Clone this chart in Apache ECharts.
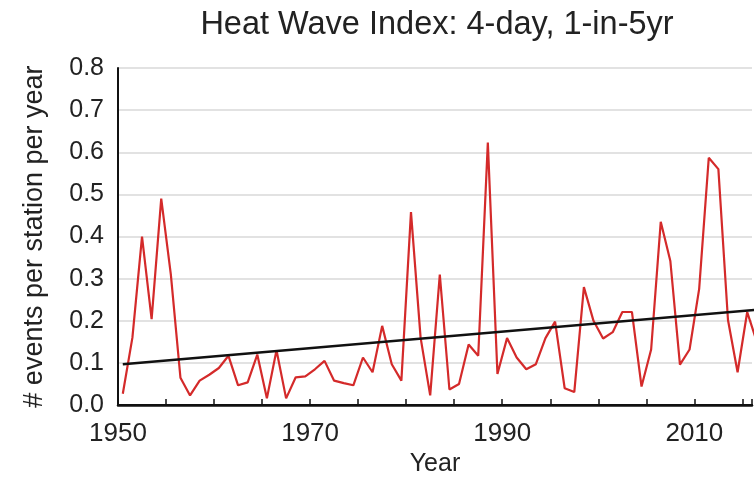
<!DOCTYPE html>
<html>
<head>
<meta charset="utf-8">
<script src="https://cdn.jsdelivr.net/npm/echarts@6/dist/echarts.min.js"></script>
<style>
html,body{margin:0;padding:0;background:#fff;}
#chart{width:755px;height:482px;}
</style>
</head>
<body>
<div id="chart"></div>
<script>
// Years (annual values, plotted at mid-year)
var years = [1950,1951,1952,1953,1954,1955,1956,1957,1958,1959,
             1960,1961,1962,1963,1964,1965,1966,1967,1968,1969,
             1970,1971,1972,1973,1974,1975,1976,1977,1978,1979,
             1980,1981,1982,1983,1984,1985,1986,1987,1988,1989,
             1990,1991,1992,1993,1994,1995,1996,1997,1998,1999,
             2000,2001,2002,2003,2004,2005,2006,2007,2008,2009,
             2010,2011,2012,2013,2014,2015,2016];
var events = [0.027,0.16,0.40,0.204,0.49,0.31,0.065,0.023,0.058,0.072,
              0.088,0.117,0.047,0.054,0.12,0.016,0.13,0.016,0.066,0.068,
              0.085,0.105,0.058,0.052,0.047,0.113,0.078,0.188,0.097,0.058,
              0.458,0.16,0.023,0.31,0.037,0.05,0.144,0.117,0.623,0.074,
              0.159,0.113,0.085,0.097,0.159,0.198,0.04,0.031,0.28,0.20,
              0.158,0.173,0.221,0.221,0.044,0.132,0.435,0.342,0.096,0.132,
              0.276,0.587,0.56,0.202,0.078,0.221,0.15];
// Linear trend end points
var trendYears = [1950, 2016];
var trendValues = [0.097, 0.226];
var yTicks = [0.0,0.1,0.2,0.3,0.4,0.5,0.6,0.7,0.8];
var xLabelYears = [1950, 1970, 1990, 2010];

var chart = echarts.init(document.getElementById('chart'));
var font = 'Liberation Sans, Arial, sans-serif';
chart.setOption({
  animation: false,
  backgroundColor: '#fff',
  title: {
    text: 'Heat Wave Index: 4-day, 1-in-5yr',
    left: 432, textAlign: 'center', top: 4,
    textStyle: {fontFamily: font, fontSize: 32.5, fontWeight: 'normal', color: '#222'}
  },
  grid: {left: 118, right: 0, top: 68, bottom: 70},
  xAxis: [{
    type: 'value', min: 1950, max: 2016, interval: 5,
    name: 'Year', nameLocation: 'middle', nameGap: 34,
    nameTextStyle: {fontFamily: font, fontSize: 25, color: '#222'},
    axisLine: {show: true, onZero: false, lineStyle: {color: '#111', width: 2}},
    axisTick: {show: true, inside: true, length: 6, lineStyle: {color: '#111', width: 1.5}},
    axisLabel: {
      margin: 16, fontFamily: font, fontSize: 26, color: '#222',
      formatter: function (v) { return xLabelYears.indexOf(v) >= 0 ? String(v) : ''; }
    },
    splitLine: {show: false}
  }, {
    type: 'value', position: 'top', min: 1950, max: 2016,
    axisLine: {show: true, lineStyle: {color: '#111', width: 2.5}},
    axisTick: {show: false}, axisLabel: {show: false}, splitLine: {show: false}
  }],
  yAxis: {
    type: 'value', min: 0, max: 0.8, interval: 0.1,
    name: '# events per station per year', nameLocation: 'middle', nameGap: 70,
    nameTextStyle: {fontFamily: font, fontSize: 27, color: '#222'},
    axisLine: {show: true, lineStyle: {color: '#111', width: 2}},
    axisTick: {show: false},
    axisLabel: {
      margin: 14, fontFamily: font, fontSize: 25, color: '#222',
      formatter: function (v) { return v.toFixed(1); }
    },
    splitLine: {show: true, lineStyle: {color: '#d8d8d8', width: 1.5}}
  },
  series: [{
    type: 'line',
    data: years.map(function (y, i) { return [y + 0.5, events[i]]; }),
    showSymbol: false, symbol: 'none',
    lineStyle: {color: '#d42a2a', width: 2.2},
    clip: true, z: 2
  }, {
    type: 'line',
    data: trendYears.map(function (y, i) { return [y + 0.5, trendValues[i]]; }),
    showSymbol: false, symbol: 'none',
    lineStyle: {color: '#111', width: 2.5},
    clip: true, z: 3
  }]
});
</script>
</body>
</html>
